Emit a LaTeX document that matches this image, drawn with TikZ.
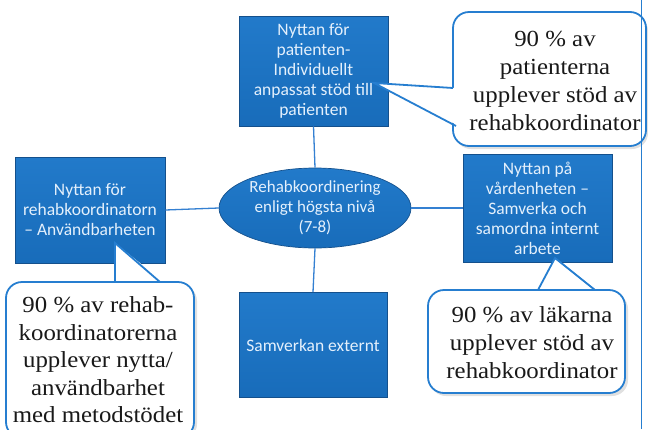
\documentclass[tikz,border=0pt]{standalone}
\usepackage{fontspec}
\setmainfont{Carlito}
\newfontfamily\calloutfont[FakeStretch=1.08]{Liberation Serif}
\usetikzlibrary{shapes.geometric}

\definecolor{boxblue}{RGB}{24,108,186}
\definecolor{boxblueTop}{RGB}{34,122,202}
\definecolor{boxedge}{RGB}{20,80,140}
\definecolor{linkblue}{RGB}{52,128,210}
\definecolor{boxtext}{RGB}{228,240,252}
\definecolor{calloutedge}{RGB}{38,126,208}

\tikzset{
  x=1pt, y=-1pt,
  unitbox/.style={rectangle, draw=boxedge, line width=0.7pt,
    top color=boxblueTop, bottom color=boxblue, text=boxtext,
    align=center, inner sep=0pt, font=\fontsize{17.5}{20}\selectfont},
  hub/.style={ellipse, draw=boxedge, line width=0.7pt,
    top color=boxblueTop, bottom color=boxblue, text=boxtext,
    align=center, inner sep=0pt, minimum width=192pt, minimum height=80pt,
    font=\fontsize{17}{20}\selectfont},
  link/.style={draw=linkblue, line width=1.3pt},
  calloutbody/.style={draw=calloutedge, fill=white, line width=1.8pt, rounded corners=16pt},
  calloutshadow/.style={fill=black, opacity=0.12, rounded corners=16pt},
  callouttail/.style={draw=calloutedge, line width=1.8pt, line join=miter},
  callouttext/.style={align=center, inner sep=0pt, text=black!90,
    font=\calloutfont\fontsize{23}{28}\selectfont},
}

\begin{document}
\begin{tikzpicture}
\useasboundingbox (0,0) rectangle (648,429);
\clip (0,0) rectangle (648,429);
\fill[white] (0,0) rectangle (648,429);

% central hub and the four areas of benefit
\node[hub] (hub) at (315,208) {Rehabkoordinering\\enligt högsta nivå\\(7-8)};
\node[unitbox, minimum width=149pt, minimum height=110pt] (pat) at (313.5,71)
  {Nyttan för\\patienten-\\Individuellt\\anpassat stöd till\\patienten};
\node[unitbox, minimum width=150pt, minimum height=106pt] (koord) at (90,210)
  {Nyttan för\\rehabkoordinatorn\\– Användbarheten};
\node[unitbox, minimum width=149pt, minimum height=108pt] (enhet) at (537.5,208)
  {Nyttan på\\vårdenheten –\\Samverka och\\samordna internt\\arbete};
\node[unitbox, minimum width=148pt, minimum height=105pt] (extern) at (313,345)
  {Samverkan externt};

% connectors from the hub
\draw[link] (pat.south) -- (hub.north);
\draw[link] (koord.east) -- (hub.west);
\draw[link] (hub.east) -- (enhet.west);
\draw[link] (hub.south) -- (extern.north);

% callout: patients
\fill[calloutshadow] (455,15) rectangle (648,149);
\draw[calloutbody] (453,12) rectangle (646,146);
\coordinate (pTip) at (374,83);
\coordinate (pA) at (453,88);
\coordinate (pB) at (456,126);
\fill[white] (pTip) -- ([xshift=3pt]pA) -- ([xshift=3pt]pB) -- cycle;
\draw[callouttail] (pA) -- (pTip) -- (pB);
\node[callouttext] (pText) at (555,81)
  {90 \% av\\patienterna\\upplever stöd av\\rehabkoordinator};

% callout: rehab coordinators
\fill[calloutshadow] (8,285) rectangle (197,440);
\draw[calloutbody] (6,282) rectangle (194,438);
\coordinate (kTip) at (115,243);
\coordinate (kA) at (115,282);
\coordinate (kB) at (160,282);
\fill[white] (kTip) -- ([yshift=3pt]kA) -- ([yshift=3pt]kB) -- cycle;
\draw[callouttail] (kA) -- (kTip) -- (kB);
\node[callouttext, font=\calloutfont\fontsize{23}{27.5}\selectfont] (kText) at (98,360)
  {90 \% av rehab-\\koordinatorerna\\upplever nytta/\\användbarhet\\med metodstödet};

% callout: physicians
\fill[calloutshadow] (430,293) rectangle (628,396);
\draw[calloutbody] (428,290) rectangle (625,393);
\coordinate (eTip) at (555,258);
\coordinate (eA) at (538,290);
\coordinate (eB) at (595,290);
\fill[white] (eTip) -- ([yshift=3pt]eA) -- ([yshift=3pt]eB) -- cycle;
\draw[callouttail] (eA) -- (eTip) -- (eB);
\node[callouttext] (eText) at (532,343)
  {90 \% av läkarna\\upplever stöd av\\rehabkoordinator};

% thin rule along the right margin
\coordinate (ruleTop) at (641,0);
\coordinate (ruleBot) at (641,429);
\draw[draw=calloutedge, line width=1pt] (ruleTop) -- (ruleBot);
\end{tikzpicture}
\end{document}
